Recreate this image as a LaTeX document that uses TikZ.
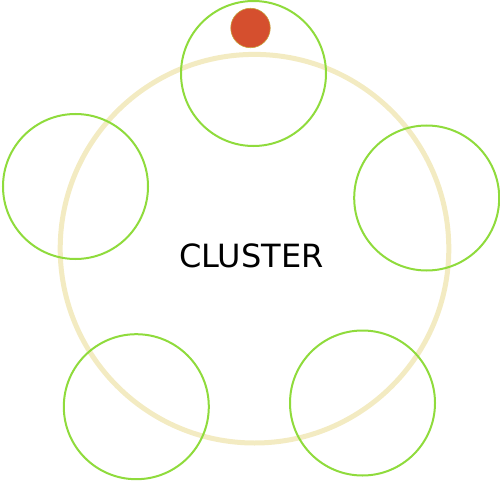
\documentclass[tikz,border=0pt]{standalone}
\usepackage{fontspec}
\setmainfont{DejaVu Sans}
\definecolor{ringcol}{HTML}{F3EBC2}
\definecolor{greencol}{HTML}{8FDB3C}
\definecolor{redfill}{HTML}{D54F2E}
\definecolor{redline}{HTML}{C8A03A}
\begin{document}
\begin{tikzpicture}[x=1pt,y=-1pt,
  ring/.style={circle,draw=ringcol,line width=5pt,minimum size=388.6pt,inner sep=0pt},
  member/.style={circle,draw=greencol,line width=2pt,minimum size=145pt,inner sep=0pt},
  leader/.style={circle,fill=redfill,draw=redline,line width=0.6pt,minimum size=39.5pt,inner sep=0pt}]
\useasboundingbox (0,0) rectangle (500,500);
\node[ring] (cluster) at (254.5,248.7) {};
\node[member] (m1) at (253.5,73.5) {};
\node[member] (m2) at (75.5,186.5) {};
\node[member] (m3) at (426.7,198) {};
\node[member] (m4) at (136.3,406.7) {};
\node[member] (m5) at (362.5,403) {};
\node[leader] (lead) at (250.5,28) {};
\node[inner sep=0pt,font=\fontsize{32}{38}\selectfont] (label) at (251.5,255.5) {CLUSTER};
\end{tikzpicture}
\end{document}
